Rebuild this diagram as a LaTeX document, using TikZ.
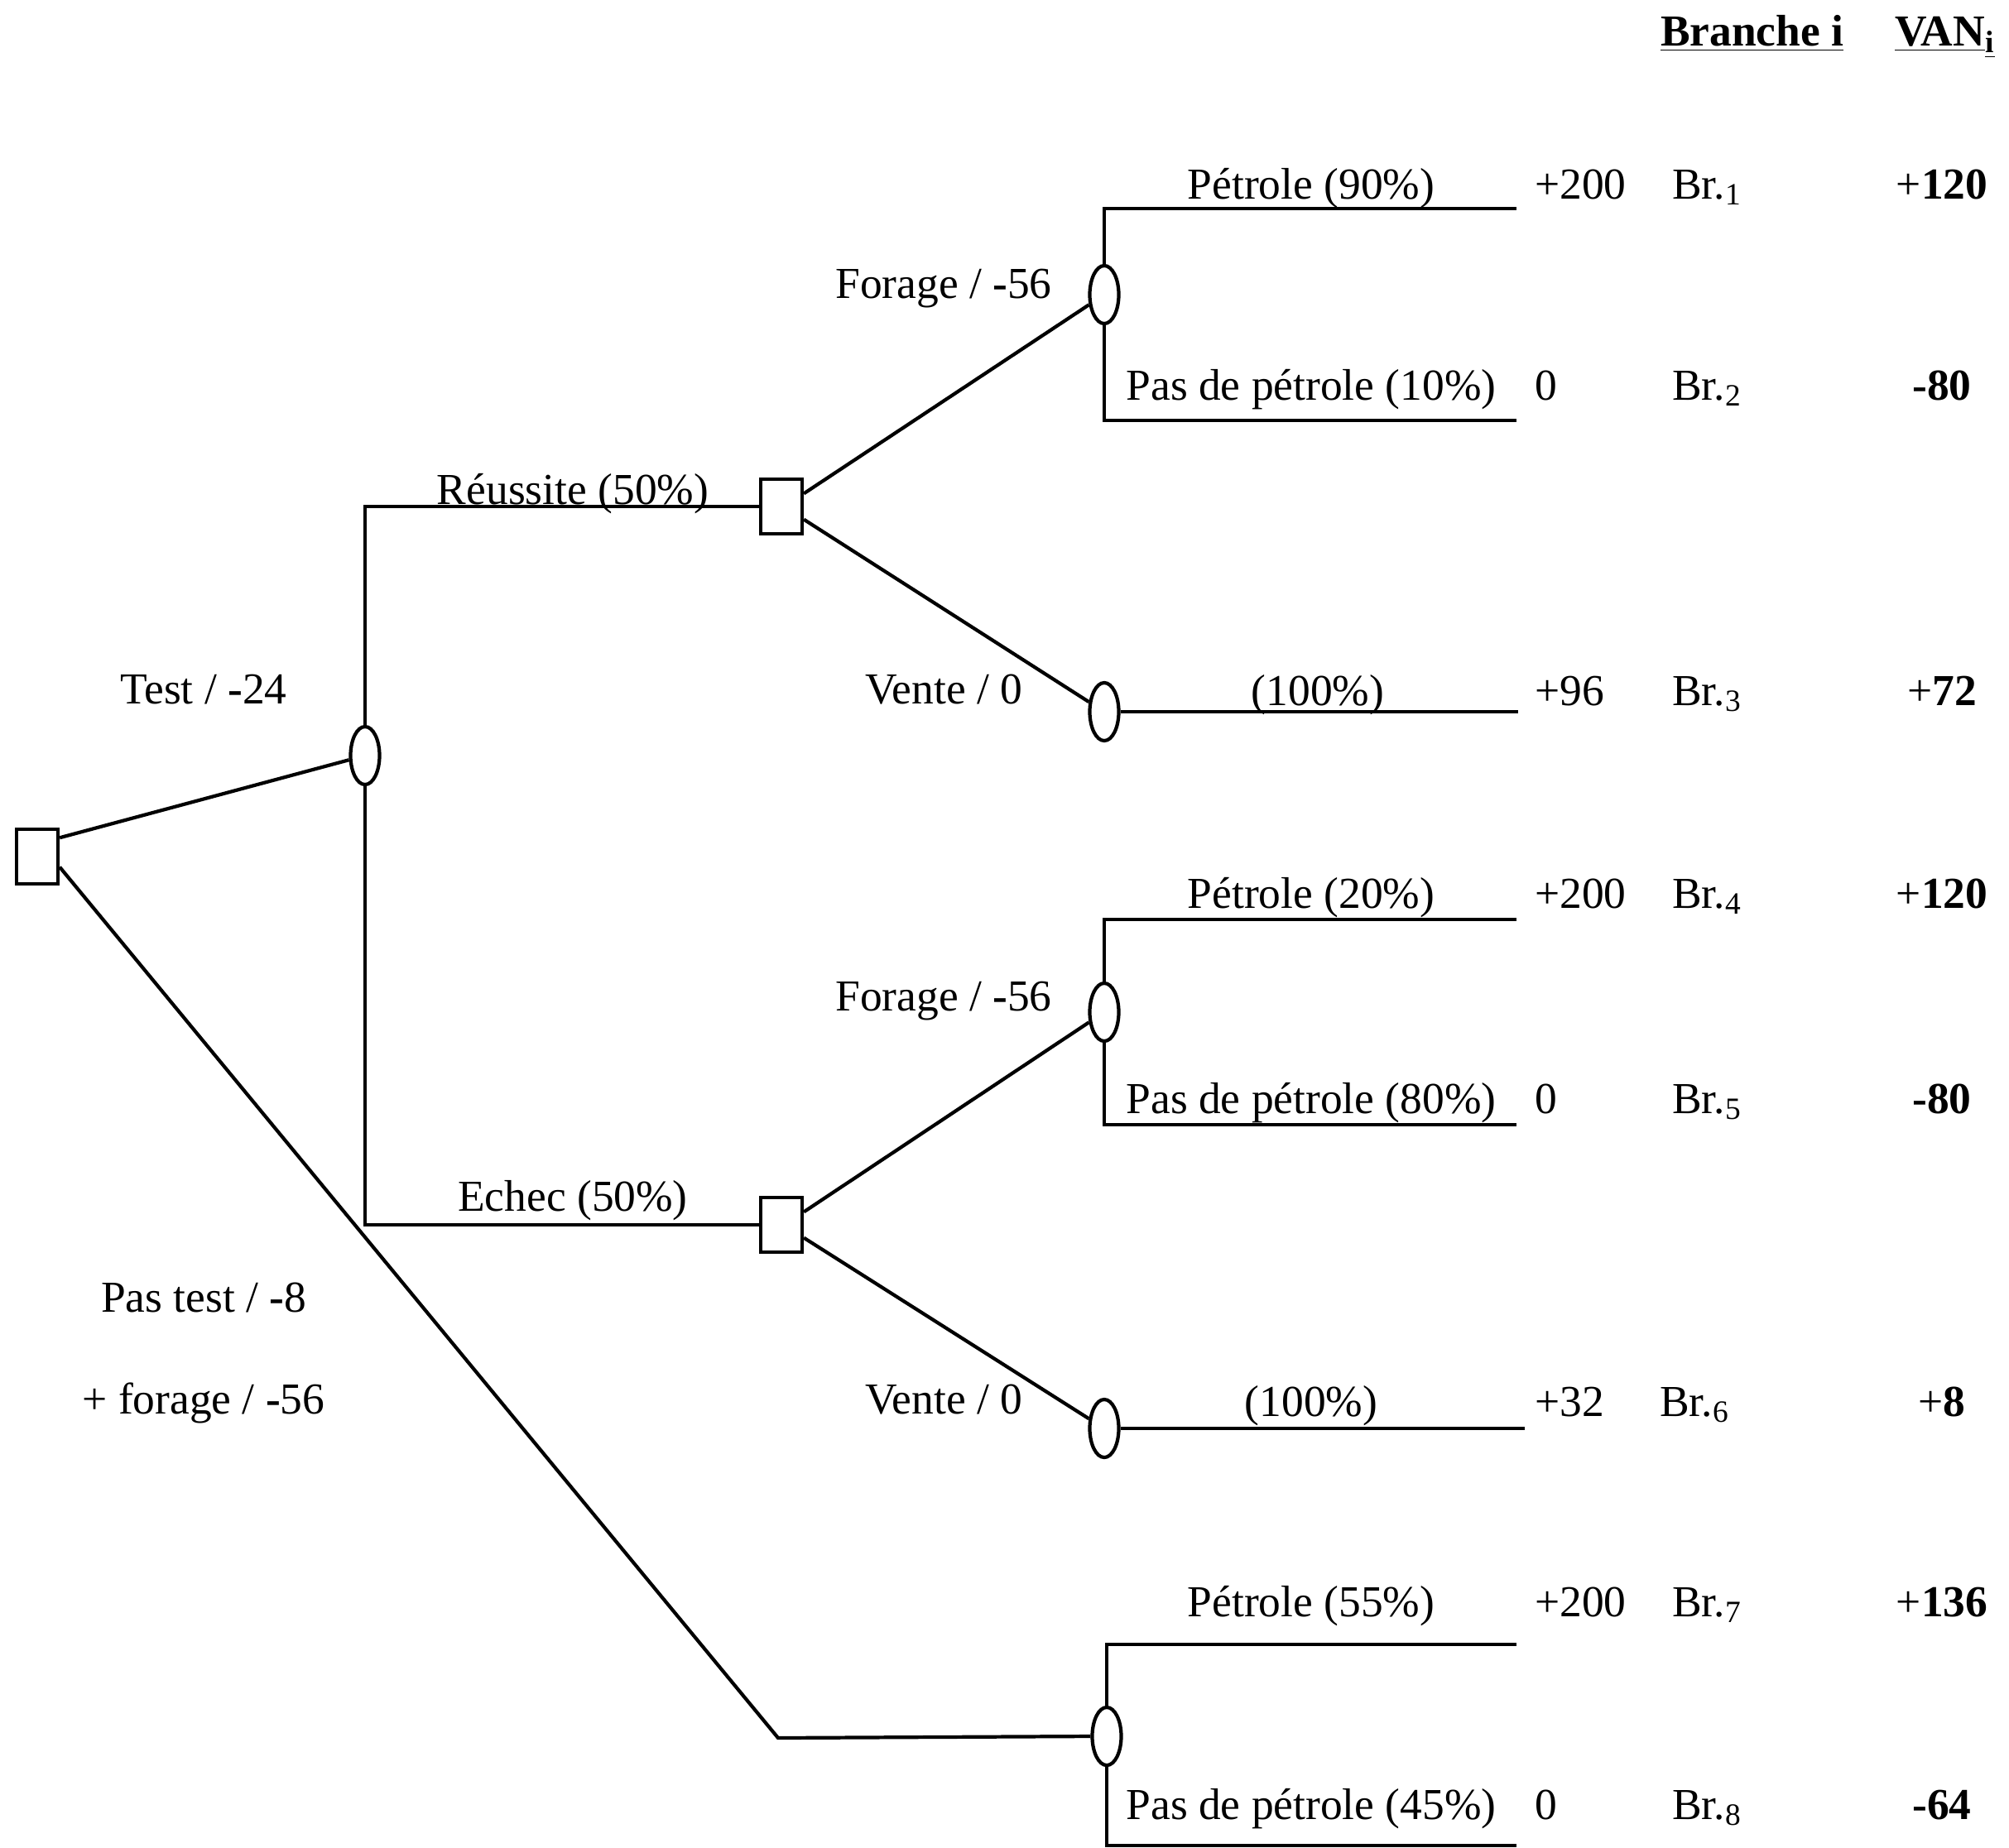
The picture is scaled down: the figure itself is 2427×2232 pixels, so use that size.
\documentclass[tikz,border=0pt]{standalone}
\usepackage{fontspec}
\setmainfont{Liberation Serif}
\usetikzlibrary{shapes.geometric}

\begin{document}
\begin{tikzpicture}[x=0.01cm, y=-0.01cm, line width=1.2pt,
    decision/.style={draw, rectangle, minimum width=0.5cm, minimum height=0.66cm, inner sep=0pt},
    chance/.style={draw, ellipse, minimum width=0.35cm, minimum height=0.7cm, inner sep=0pt},
    lbl/.style={anchor=base, inner sep=0pt, font=\fontsize{15.2}{18}\selectfont},
    lbll/.style={lbl, anchor=base west}]
    \useasboundingbox (0,0) rectangle (2427,2232);

    % 1. Noeuds de decision (carres) et noeuds aleatoires (ellipses)
    \node[decision] (root) at (45,1035) {};
    \node[chance]   (c1)   at (441,913) {};
    \node[decision] (d2)   at (944,612) {};
    \node[decision] (d3)   at (944,1480) {};
    \node[chance]   (f1)   at (1334,356) {};
    \node[chance]   (v1)   at (1334,860) {};
    \node[chance]   (f2)   at (1334,1223) {};
    \node[chance]   (v2)   at (1334,1726) {};
    \node[chance]   (p3)   at (1337,2098) {};

    % extremites des branches
    \coordinate (k)  at (940,2100);
    \coordinate (e1) at (1832,252);
    \coordinate (e2) at (1832,508);
    \coordinate (e3) at (1834,860);
    \coordinate (e4) at (1832,1111);
    \coordinate (e5) at (1832,1359);
    \coordinate (e6) at (1842,1726);
    \coordinate (e7) at (1832,1987);
    \coordinate (e8) at (1832,2230);

    % 2. Branches
    \draw (root.40) -- (c1);
    \draw (c1.north) |- (d2.west);
    \draw (c1.south) |- (d3.west);
    \draw (d2.30) -- (f1);
    \draw (d2.-30) -- (v1);
    \draw (d3.30) -- (f2);
    \draw (d3.-30) -- (v2);
    \draw (root.-25) -- (k) -- (p3.west);

    \draw (f1.north) |- (e1);
    \draw (f1.south) |- (e2);
    \draw (v1.east) -- (e3);
    \draw (f2.north) |- (e4);
    \draw (f2.south) |- (e5);
    \draw (v2.east) -- (e6);
    \draw (p3.north) |- (e7);
    \draw (p3.south) |- (e8);

    % 3. Etiquettes des decisions
    \node[lbl] (t-test)  at (246,850)  {Test / \textbf{-}24};
    \node[lbl] (t-pas)   at (246,1585) {Pas test / \textbf{-}8};
    \node[lbl] (t-pasf)  at (246,1708) {+ forage / \textbf{-}56};
    \node[lbl] (t-reu)   at (692,609)  {Réussite (50\%)};
    \node[lbl] (t-ech)   at (692,1463) {Echec (50\%)};
    \node[lbl] (t-for1)  at (1140,360) {Forage / \textbf{-}56};
    \node[lbl] (t-ven1)  at (1140,850) {Vente / 0};
    \node[lbl] (t-for2)  at (1140,1221) {Forage / \textbf{-}56};
    \node[lbl] (t-ven2)  at (1140,1708) {Vente / 0};

    % 4. Etiquettes des evenements
    \node[lbl] (o1) at (1584,240)  {Pétrole (90\%)};
    \node[lbl] (o2) at (1584,483)  {Pas de pétrole (10\%)};
    \node[lbl] (o3) at (1592,852)  {(100\%)};
    \node[lbl] (o4) at (1584,1097) {Pétrole (20\%)};
    \node[lbl] (o5) at (1584,1345) {Pas de pétrole (80\%)};
    \node[lbl] (o6) at (1584,1711) {(100\%)};
    \node[lbl] (o7) at (1584,1953) {Pétrole (55\%)};
    \node[lbl] (o8) at (1584,2198) {Pas de pétrole (45\%)};

    % 5. Tableau a droite : flux, branche, VAN
    \node[lbll] (h-br)  at (2004,55) {\textbf{\underline{Branche i}}};
    \node[lbll] (h-van) at (2287,55) {\textbf{\underline{VAN}\underline{\textsubscript{i}}}};
    \foreach \y/\v/\n/\bx/\van in {240/+200/1/2018/{+\textbf{120}}, 483/0/2/2018/\textbf{-80},
        852/+96/3/2018/{+\textbf{72}}, 1097/+200/4/2018/{+\textbf{120}}, 1345/0/5/2018/\textbf{-80},
        1711/+32/6/2003/{+\textbf{8}}, 1953/+200/7/2018/{+\textbf{136}}, 2198/0/8/2018/\textbf{-64}}
    {
        \node[lbll] (val\n) at (1852,\y) {\v};
        \node[lbll] (br\n)  at (\bx,\y)  {Br.\textsubscript{\n}};
        \node[lbl]  (van\n) at (2346,\y) {\van};
    }
\end{tikzpicture}
\end{document}
